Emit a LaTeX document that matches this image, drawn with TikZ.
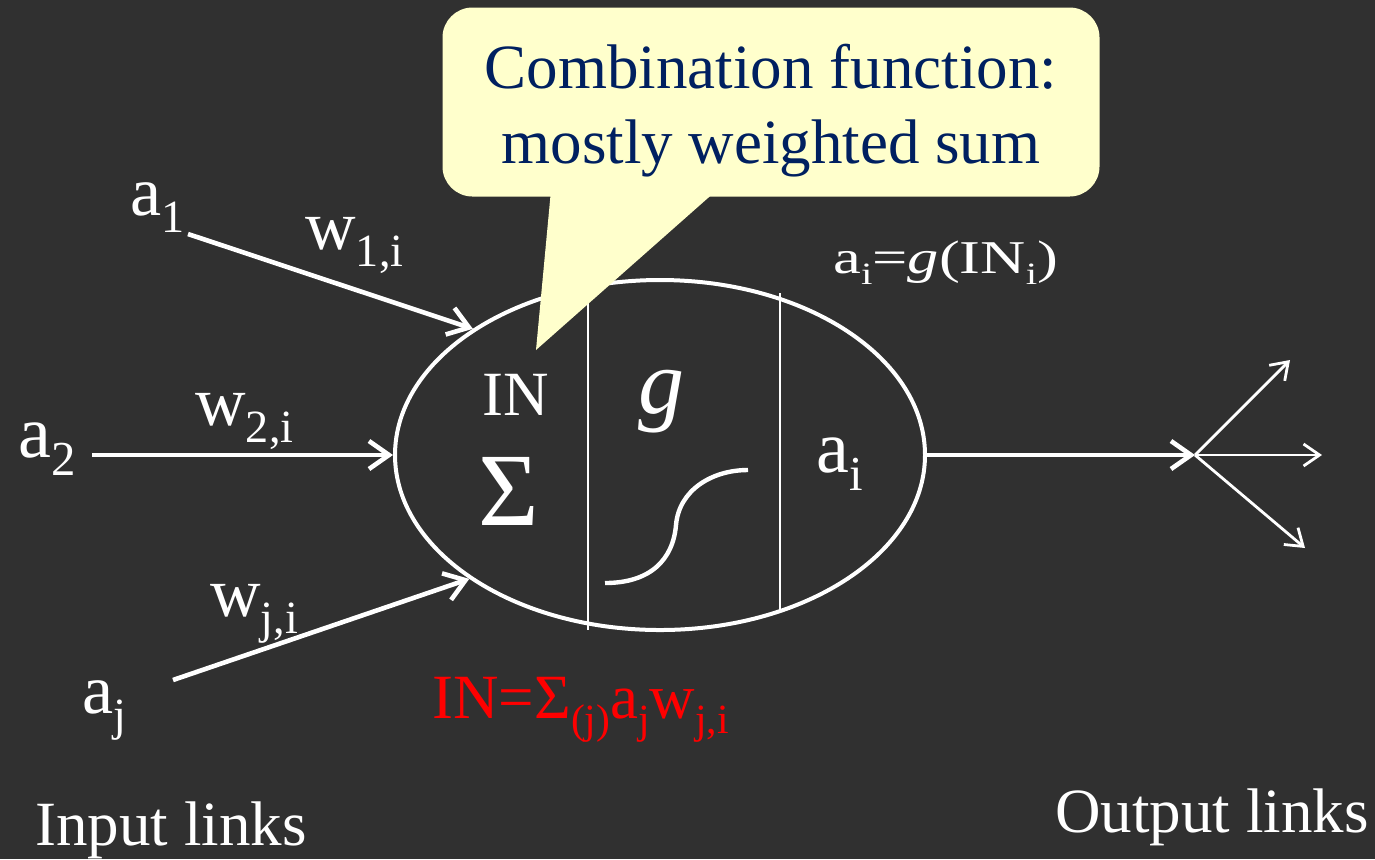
\documentclass[tikz,border=0pt]{standalone}
\usepackage{fontspec,graphicx}
\setmainfont{Liberation Serif}
\usetikzlibrary{arrows.meta,shapes.geometric}
\definecolor{bg}{HTML}{303030}
\definecolor{notebg}{HTML}{FFFFCC}
\definecolor{notefg}{HTML}{002060}
\newcommand\dn[1]{\raisebox{-.25em}{\scalebox{.66}{#1}}}
\newcommand\fs[1]{\fontsize{#1}{#1}\selectfont}
\tikzset{neuron/.style={ellipse,draw=white,line width=2pt,minimum width=265pt,minimum height=175pt,inner sep=0pt},
 link/.style={white,line width=2.3pt,-{Straight Barb[length=10pt,width=14pt]}},
 fan/.style={white,line width=1.4pt,-{Straight Barb[length=8pt,width=11pt]}},
 part/.style={white,line width=.8pt},sig/.style={white,line width=2.2pt},
 note/.style={fill=notebg,rounded corners=15pt,minimum width=328.5pt,minimum height=94.5pt},
 notetxt/.style={align=center,text=notefg,inner sep=0pt,font=\fontsize{31.5}{37.5}\selectfont},
 txt/.style={text=white,inner sep=0pt,anchor=base west,font=\fs{31.5}},
 lbl/.style={txt,font=\fs{35}}}
\begin{document}
\begin{tikzpicture}[x=.5pt,y=-.5pt]
\fill[bg] (0,0) rectangle (1375,859);
\node[neuron](n) at (660,455){};
\draw[part] (588,286)--(588,630); \draw[part] (780,293)--(780,610);
\draw[sig] (605,583) .. controls (650,583) and (673,560) .. (676,525) .. controls (679,490) and (712,470) .. (748,470);
% inputs
\coordinate (s1) at (188,234); \coordinate (s2) at (92,455); \coordinate (sj) at (173,680);
\draw[link] (s1)--(n.146); \draw[link] (s2)--(n.west); \draw[link] (sj)--(n.213);
% outputs
\coordinate (hub) at (1195,455);
\coordinate (o1) at (1290,360); \coordinate (o2) at (1322,455); \coordinate (o3) at (1305,548);
\draw[link] (n.east)--(hub);
\draw[fan] (hub)--(o1); \draw[fan] (hub)--(o2); \draw[fan] (hub)--(o3);
% callout
\fill[notebg] (551,190)--(536,350)--(717,190)--cycle;
\node[note](note) at (771,102){};
\node[notetxt](notetext) at (771,110.5){Combination function:\\mostly weighted sum};
% labels
\node[lbl](a1) at (130,215){a\dn{1}};
\node[lbl](w1) at (305,249){w\dn{1,i}};
\node[lbl,font=\fs{37}](a2) at (18,457){a\dn{2}};
\node[lbl](w2) at (195,425){w\dn{2,i}};
\node[lbl](aj) at (82,713){a\dn{j}};
\node[lbl](wj) at (210,616){w\dn{j,i}};
\node[txt](in) at (482,415){IN};
\node[txt,font=\fs{52}](sum) at (478,525){Σ};
\node[txt,font=\fs{46}](g) at (638,413){\textit{g}};
\node[txt,font=\fs{37}](ai) at (816,472){a\dn{i}};
\node[txt,font=\fs{23.5}](act) at (833,273){\scalebox{1.33}[1]{a\dn{i}=\textit{g}(IN\dn{i})}};
\node[txt,text=red](sumeq) at (432,718){IN=Σ\dn{(j)}a\dn{j}w\dn{j,i}};
\node[txt](inl) at (35,845){Input links};
\node[txt](outl) at (1055,832){Output links};
\end{tikzpicture}
\end{document}
